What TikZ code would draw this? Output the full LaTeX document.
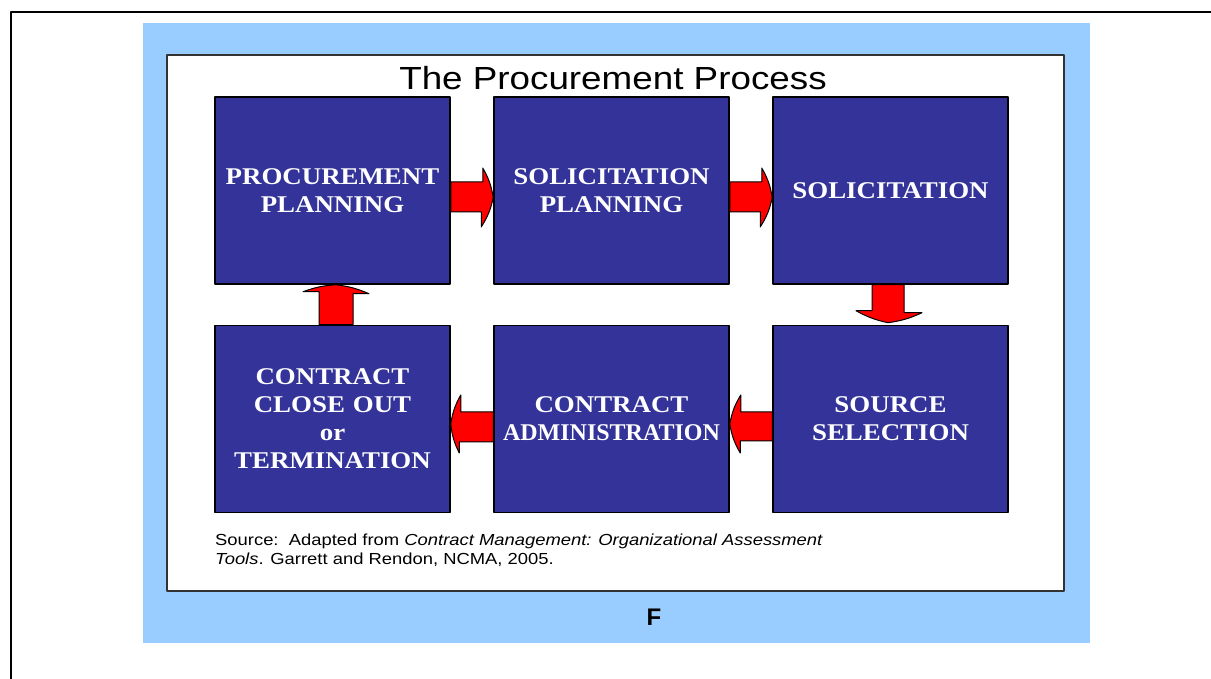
\documentclass[tikz,border=0pt]{standalone}
\usepackage{fontspec}
\setmainfont{Liberation Sans}
\newfontfamily\boxfont[FakeStretch=1.12]{Liberation Serif}
\newfontfamily\boxplain{Liberation Serif}
\newfontfamily\widesans[FakeStretch=1.15]{Liberation Sans}
\definecolor{boxblue}{HTML}{333399}
\definecolor{skyblue}{HTML}{99CCFF}
\begin{document}
\begin{tikzpicture}[x=1pt, y=1pt, line join=round]
	\tikzset{stepbox/.style={draw=black, line width=1.5pt, fill=boxblue, text=white, align=center,
			minimum width=235pt, minimum height=187pt, text width=225pt, inner sep=0pt,
			font=\boxfont\bfseries\fontsize{24}{28}\selectfont},
		redarrow/.style={draw=black, line width=1pt, fill=red}}
	\useasboundingbox (0,0) rectangle (1211,679);
	% frame, background and sheet
	\draw[line width=1.5pt] (11,0) -- (11,667) -- (1211,667);
	\fill[skyblue] (143,36) rectangle (1090,656);
	\draw[fill=white, draw=black!80, line width=2pt] (167,88) rectangle (1064,624);
	\node[anchor=base, font=\widesans\fontsize{32}{38}\selectfont] (title) at (613,589) {The Procurement Process};
	% the six steps
	\node[stepbox] (pp) at (332.5,488.5) {PROCUREMENT\\PLANNING};
	\node[stepbox] (sp) at (611.5,488.5) {SOLICITATION\\PLANNING};
	\node[stepbox] (sol) at (890.5,488.5) {SOLICITATION};
	\node[stepbox] (cc) at (332.5,260) {CONTRACT\\CLOSE OUT\\or\\TERMINATION};
	\node[stepbox] (ca) at (611.5,260) {CONTRACT\\{\boxplain ADMINISTRATION}};
	\node[stepbox] (ss) at (890.5,260) {SOURCE\\SELECTION};
	% block arrows
	\draw[redarrow] ([yshift=8.5pt]pp.east) -- ++(32,0) -- ++(0,14) to[bend left=10] ([yshift=-7pt]sp.west)
		to[bend left=10] ++(-12,-29.5) -- ++(0,15) -- ([yshift=-21.5pt]pp.east) -- cycle;
	\draw[redarrow] ([yshift=8.5pt]sp.east) -- ++(32,0) -- ++(0,14) to[bend left=10] ([yshift=-7pt]sol.west)
		to[bend left=10] ++(-12,-29.5) -- ++(0,15) -- ([yshift=-21.5pt]sp.east) -- cycle;
	\draw[redarrow] ([xshift=13.5pt]sol.south) -- ++(0,-28) -- ++(18,0) to[bend left=8] ([xshift=-2.5pt,yshift=2pt]ss.north)
		to[bend left=8] ++(-32,12) -- ++(16,0) -- ([xshift=-18.5pt]sol.south) -- cycle;
	\draw[redarrow] ([yshift=-22pt]ss.west) -- ++(-32,0) -- ++(0,-12) to[bend left=10] ([yshift=-5pt]ca.east)
		to[bend left=10] ++(11,29) -- ++(0,-17) -- ([yshift=7pt]ss.west) -- cycle;
	\draw[redarrow] ([yshift=-23pt]ca.west) -- ++(-34,0) -- ++(0,-11) to[bend left=10] ([yshift=-5pt]cc.east)
		to[bend left=10] ++(10,29) -- ++(0,-17) -- ([yshift=7pt]ca.west) -- cycle;
	\draw[redarrow] ([xshift=-13.5pt]cc.north) -- ++(0,33) -- ++(-16,0) to[bend left=8] ([xshift=3.5pt]pp.south)
		to[bend left=8] ++(33,-9) -- ++(-16,0) -- ([xshift=20.5pt]cc.north) -- cycle;
	% source line and figure letter
	\node[anchor=north west, align=left, inner sep=0pt, font=\widesans\fontsize{16}{19}\selectfont] (src) at (215,145)
		{Source:\ \ Adapted from \textit{Contract Management: Organizational Assessment}\\\textit{Tools}. Garrett and Rendon, NCMA, 2005.};
	\node[font=\bfseries\fontsize{24}{28}\selectfont] (fig) at (654,62) {F};
\end{tikzpicture}
\end{document}
